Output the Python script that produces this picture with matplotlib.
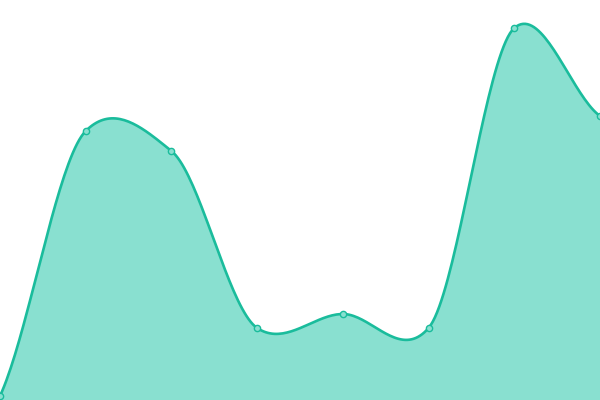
import numpy as np
import matplotlib
matplotlib.use("Agg")
import matplotlib.pyplot as plt

# data
categories = ["A", "B", "C", "D", "E", "F", "G", "H"]
values = [4, 269, 249, 72, 86, 72, 372, 284]

line_color = "#1abc9c"
fill_color = "#89e0d0"


def smooth(y, s=0.7, n=40):
    # cubic hermite with scaled catmull-rom tangents
    y = np.asarray(y, dtype=float)
    k = len(y)
    m = np.zeros(k)
    for i in range(k):
        if i == 0:
            m[i] = s * (y[1] - y[0])
        elif i == k - 1:
            m[i] = s * (y[-1] - y[-2])
        else:
            m[i] = s * (y[i + 1] - y[i - 1]) / 2
    xs, ys = [], []
    for i in range(k - 1):
        t = np.linspace(0, 1, n, endpoint=(i == k - 2))
        h00 = 2 * t**3 - 3 * t**2 + 1
        h10 = t**3 - 2 * t**2 + t
        h01 = -2 * t**3 + 3 * t**2
        h11 = t**3 - t**2
        xs.append(i + t)
        ys.append(h00 * y[i] + h10 * m[i] + h01 * y[i + 1] + h11 * m[i + 1])
    return np.concatenate(xs), np.concatenate(ys)


x = np.arange(len(categories))
sx, sy = smooth(values)

fig = plt.figure(figsize=(6, 4), dpi=100)
ax = fig.add_axes([0, 0, 1, 1])
ax.fill_between(sx, sy, 0, color=fill_color, lw=0)
ax.plot(sx, sy, color=line_color, lw=1.9, solid_capstyle="round")
ax.plot(x, values, "o", ms=4.5, mfc=fill_color, mec=line_color, mew=1, clip_on=False)
ax.set_xlim(0, len(categories) - 1)
ax.set_ylim(0, 400)
ax.axis("off")
fig.savefig("out.png", dpi=100)
